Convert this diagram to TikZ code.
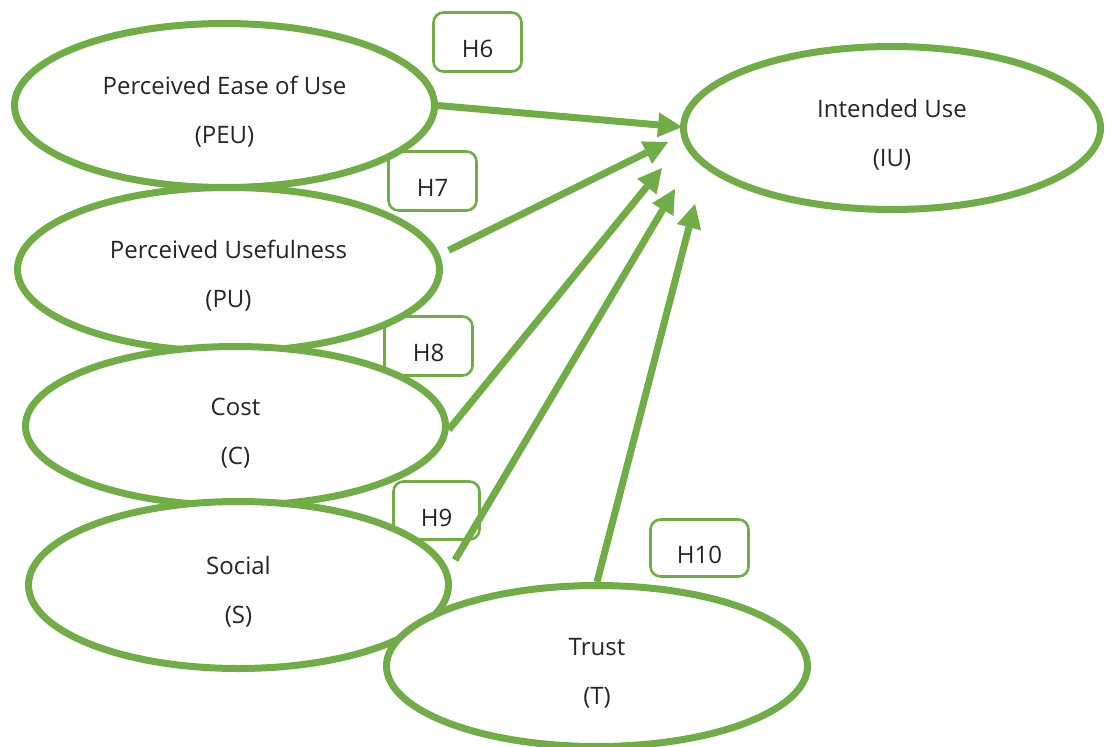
\documentclass[tikz,border=0pt]{standalone}
\usepackage{fontspec}
\setmainfont{Open Sans}
\usetikzlibrary{arrows.meta,shapes.geometric}

\definecolor{leaf}{HTML}{70AD47}
\definecolor{ink}{HTML}{262626}

% two centred lines, nudged slightly below the shape's centre
\newcommand\twoline[2]{\raisebox{-4pt}[\height][\depth]{\begin{tabular}{@{}c@{}}#1\\#2\end{tabular}}}
% hypothesis tag text, set a little low in its box
\newcommand\tagtext[1]{\raisebox{-7pt}[\height][\depth]{#1}}

\begin{document}
\begin{tikzpicture}[x=1pt,y=-1pt,
  construct/.style={ellipse, draw=leaf, line width=7pt, fill=white, inner sep=0pt,
    text=ink, font=\fontsize{24}{49}\selectfont},
  hyptag/.style={draw=leaf, line width=2.6pt, rounded corners=10pt, fill=white,
    inner sep=0pt, text=ink, font=\fontsize{24}{29}\selectfont},
  link/.style={draw=leaf, line width=7pt,
    -{Triangle[length=24pt,width=25pt,line width=0pt]}}
]
\useasboundingbox (0,0) rectangle (1106,747);

% hypothesis tags (behind the constructs)
\node[hyptag, minimum width=88pt, minimum height=59pt] (h6)  at (477.5,42)  {\tagtext{H6}};
\node[hyptag, minimum width=88pt, minimum height=59pt] (h7)  at (432.5,181) {\tagtext{H7}};
\node[hyptag, minimum width=88pt, minimum height=59pt] (h8)  at (428.5,346) {\tagtext{H8}};
\node[hyptag, minimum width=86pt, minimum height=58pt] (h9)  at (436.5,510.5) {\tagtext{H9}};
\node[hyptag, minimum width=98pt, minimum height=57pt] (h10) at (699.5,548) {\tagtext{H10}};

% constructs
\node[construct, minimum width=420pt, minimum height=164pt] (peu) at (224.5,105.5)
  {\twoline{Perceived Ease of Use}{(PEU)}};
\node[construct, minimum width=422pt, minimum height=164pt] (pu) at (228.5,269.5)
  {\twoline{Perceived Usefulness}{(PU)}};
\node[construct, minimum width=420pt, minimum height=159pt] (c) at (235.5,426)
  {\twoline{Cost}{(C)}};
\node[construct, minimum width=420pt, minimum height=167pt] (s) at (238.5,585)
  {\twoline{Social}{(S)}};
\node[construct, minimum width=421pt, minimum height=161pt] (t) at (597,666)
  {\twoline{Trust}{(T)}};
\node[construct, minimum width=417pt, minimum height=163pt] (iu) at (892,128)
  {\twoline{Intended Use}{(IU)}};

% arrow tips, just short of the outcome construct
\coordinate (e6)  at (682,127);
\coordinate (e7)  at (668,142);
\coordinate (e8)  at (662,168);
\coordinate (e9)  at (675,189);
\coordinate (e10) at (695,204);

% paths
\draw[link] (peu.east) -- (e6);
\draw[link, shorten <=10pt] (pu.4.3) -- (e7);
\draw[link] (c.-1.6) -- (e8);
\draw[link, shorten <=12pt] (s.4.7) -- (e9);
\draw[link] (t.north) -- (e10);
\end{tikzpicture}
\end{document}
